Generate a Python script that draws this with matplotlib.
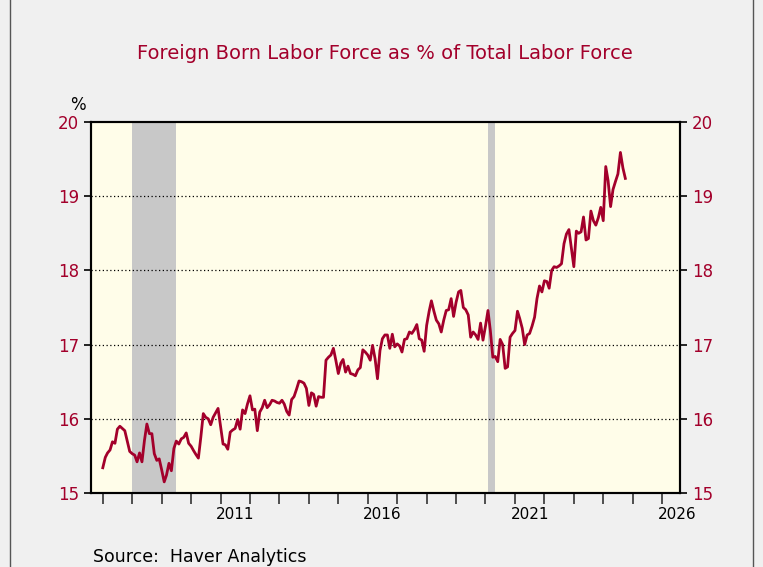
import matplotlib
matplotlib.use("Agg")
import matplotlib.pyplot as plt
import matplotlib.dates as mdates
from matplotlib.lines import Line2D
import pandas as pd

# monthly share of foreign born in labor force, Jan 2007 - Oct 2024
start = "2007-01-01"
pct = [
    15.34, 15.48, 15.54, 15.58, 15.69, 15.67, 15.86, 15.90, 15.87, 15.84, 15.70, 15.56,  # 2007
    15.53, 15.51, 15.42, 15.54, 15.42, 15.71, 15.93, 15.80, 15.80, 15.53, 15.44, 15.46,  # 2008
    15.31, 15.15, 15.24, 15.40, 15.30, 15.60, 15.70, 15.66, 15.73, 15.75, 15.81, 15.67,  # 2009
    15.63, 15.57, 15.52, 15.47, 15.75, 16.07, 16.02, 16.00, 15.92, 16.02, 16.08, 16.14,  # 2010
    15.90, 15.66, 15.65, 15.59, 15.82, 15.85, 15.87, 15.99, 15.86, 16.12, 16.07, 16.20,  # 2011
    16.31, 16.12, 16.13, 15.84, 16.09, 16.15, 16.25, 16.15, 16.19, 16.25, 16.24, 16.22,  # 2012
    16.21, 16.25, 16.20, 16.10, 16.05, 16.26, 16.30, 16.40, 16.51, 16.50, 16.48, 16.41,  # 2013
    16.18, 16.35, 16.33, 16.17, 16.30, 16.29, 16.29, 16.79, 16.83, 16.86, 16.95, 16.79,  # 2014
    16.61, 16.75, 16.80, 16.63, 16.71, 16.61, 16.60, 16.58, 16.66, 16.69, 16.93, 16.90,  # 2015
    16.86, 16.79, 16.99, 16.81, 16.54, 16.92, 17.08, 17.13, 17.13, 16.95, 17.14, 16.97,  # 2016
    17.01, 16.98, 16.90, 17.07, 17.08, 17.17, 17.15, 17.20, 17.27, 17.08, 17.06, 16.91,  # 2017
    17.26, 17.45, 17.59, 17.45, 17.33, 17.28, 17.17, 17.33, 17.46, 17.47, 17.62, 17.38,  # 2018
    17.57, 17.71, 17.73, 17.50, 17.47, 17.40, 17.10, 17.17, 17.13, 17.07, 17.29, 17.06,  # 2019
    17.25, 17.46, 17.19, 16.83, 16.84, 16.77, 17.07, 17.00, 16.68, 16.70, 17.10, 17.15,  # 2020
    17.19, 17.45, 17.35, 17.22, 17.00, 17.13, 17.15, 17.25, 17.37, 17.62, 17.79, 17.71,  # 2021
    17.86, 17.85, 17.76, 18.00, 18.05, 18.04, 18.06, 18.09, 18.36, 18.49, 18.55, 18.30,  # 2022
    18.05, 18.53, 18.50, 18.52, 18.72, 18.41, 18.43, 18.80, 18.67, 18.61, 18.71, 18.85,  # 2023
    18.67, 19.40, 19.21, 18.86, 19.09, 19.20, 19.30, 19.59, 19.38, 19.24,  # 2024
]
dates = pd.date_range(start, periods=len(pct), freq="MS")

recessions = [("2008-01-01", "2009-07-01"), ("2020-02-01", "2020-05-01")]
yticks = [15, 16, 17, 18, 19, 20]
label_years = [2011, 2016, 2021, 2026]

red = "#a3002b"
bg = "#f0f0f0"

fig = plt.figure(figsize=(7.63, 5.67), dpi=100, facecolor=bg)
ax = fig.add_axes([0.1193, 0.1305, 0.7719, 0.6543], facecolor="#fffde9")

for a, b in recessions:
    ax.axvspan(pd.Timestamp(a), pd.Timestamp(b), color="#c8c8c8", lw=0, zorder=1)

for y in yticks[1:-1]:
    ax.axhline(y, color="black", ls=(0, (1, 2)), lw=0.9, zorder=2)

ax.plot(dates, pct, color=red, lw=2.0, zorder=3, solid_joinstyle="round")

ax.set_ylim(15, 20)
ax.set_xlim(pd.Timestamp("2006-08-08"), pd.Timestamp("2026-08-10"))

ax.set_yticks(yticks)
ax.tick_params(axis="y", labelcolor=red, color="black", labelsize=12, length=5,
               width=1.2, direction="out")
ax2 = ax.twinx()
ax2.set_ylim(15, 20)
ax2.set_yticks(yticks)
ax2.tick_params(axis="y", labelcolor=red, color="black", labelsize=12,
                length=5, width=1.2, direction="out")

# year ticks at Jan, labels centred in the year
ax.xaxis.set_major_locator(mdates.YearLocator(1))
ax.xaxis.set_major_formatter(plt.NullFormatter())
ax.set_xticks([pd.Timestamp(f"{y}-07-02") for y in label_years], minor=True)
ax.set_xticklabels([str(y) for y in label_years], minor=True)
ax.tick_params(axis="x", which="major", length=8, width=1.2, color="#333333")
ax.tick_params(axis="x", which="minor", length=0, labelsize=11, pad=10)

for s in ax.spines.values():
    s.set_linewidth(1.5)
for s in ax2.spines.values():
    s.set_linewidth(1.5)

fig.text(0.505, 0.905, "Foreign Born Labor Force as % of Total Labor Force",
         ha="center", va="center", color=red, fontsize=14)
fig.text(0.102, 0.815, "%", ha="center", va="center", fontsize=12)
fig.text(0.122, 0.018, "Source:  Haver Analytics", ha="left", va="center", fontsize=12.5)

fig.add_artist(Line2D([0.0131, 0.0131], [0, 1], color="#555555", lw=1))
fig.add_artist(Line2D([0.987, 0.987], [0, 1], color="#555555", lw=1))

fig.savefig("out.png", dpi=100, facecolor=bg)
